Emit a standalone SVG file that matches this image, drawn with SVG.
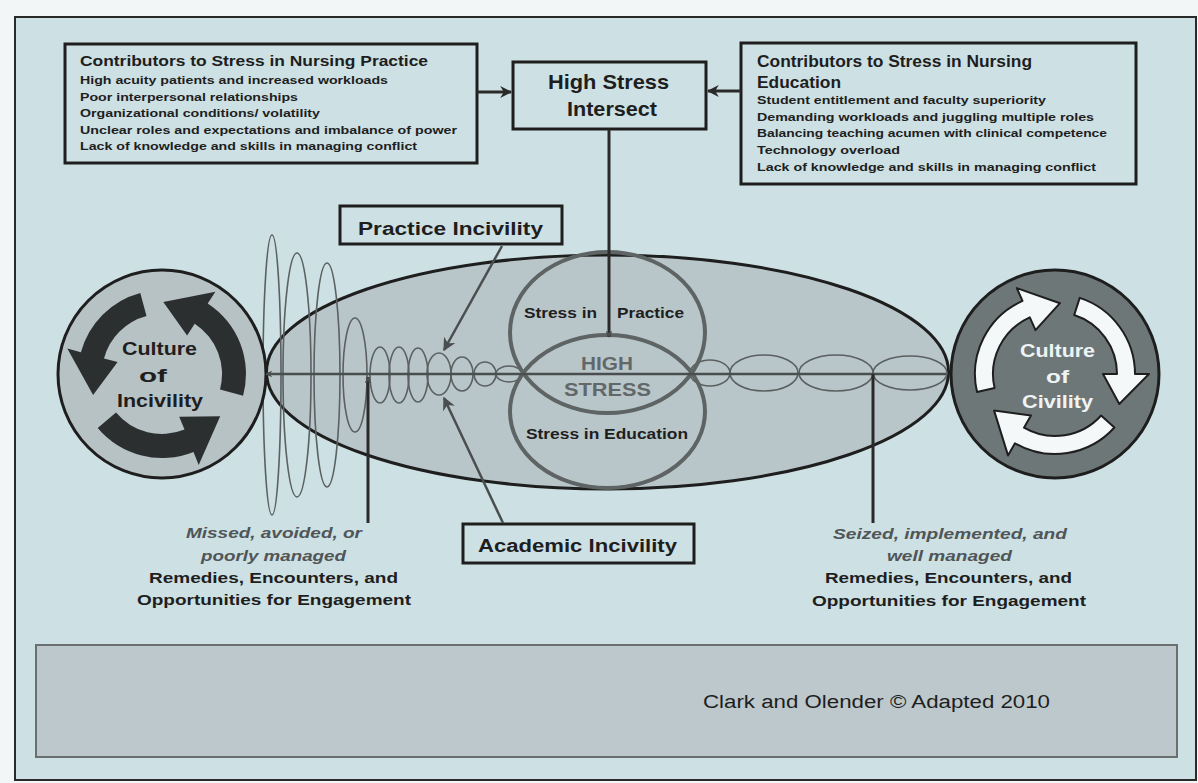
<svg xmlns="http://www.w3.org/2000/svg" width="1198" height="783" viewBox="0 0 1198 783">
<style>
text{font-family:"Liberation Sans",Arial,sans-serif;fill:#1e1e1e}
.b{font-weight:bold}
.box{fill:none;stroke:#1e1e1e;stroke-width:3}
.t15{font-size:15px;font-weight:bold}
.t11{font-size:11.5px;font-weight:bold}
.ripple{fill:none;stroke:#5b6061;stroke-width:1.6}
.conn{stroke:#2a2a2a;stroke-width:3;fill:none}
.gconn{stroke:#4a4e4f;stroke-width:2.5;fill:none}
.it{font-size:15px;font-weight:bold;font-style:italic;fill:#505557}
</style>
<defs>
<marker id="ah" viewBox="0 0 10 10" refX="9" refY="5" markerWidth="12" markerHeight="12" markerUnits="userSpaceOnUse" orient="auto">
<path d="M0,0 L10,5 L0,10 L3,5 z" fill="#2a2a2a"/>
</marker>
<marker id="ahg" viewBox="0 0 10 10" refX="9" refY="5" markerWidth="13" markerHeight="13" markerUnits="userSpaceOnUse" orient="auto">
<path d="M0,0 L10,5 L0,10 L3,5 z" fill="#4a4e4f"/>
</marker>
<marker id="ahs" viewBox="0 0 10 10" refX="9" refY="5" markerWidth="7" markerHeight="7" markerUnits="userSpaceOnUse" orient="auto">
<path d="M0,0 L10,5 L0,10 L3,5 z" fill="#4a4e4f"/>
</marker>
</defs>

<rect x="0" y="0" width="1198" height="783" fill="#f2f6f6"/>
<rect id="frame" x="15" y="17" width="1181" height="763" fill="#cde0e3" stroke="#2a2a2a" stroke-width="2"/>

<g id="stress-field">
<ellipse cx="607.5" cy="372" rx="341" ry="117" fill="#b9c6c9" stroke="#1e1e1e" stroke-width="3"/>
</g>

<g id="ripples-left">
<ellipse class="ripple" cx="272" cy="375" rx="9" ry="140" stroke="#6a6f70"/>
<ellipse class="ripple" cx="297" cy="375" rx="14" ry="122" stroke="#6a6f70"/>
<ellipse class="ripple" cx="327" cy="375" rx="13" ry="112" stroke="#6a6f70"/>
<ellipse class="ripple" cx="355" cy="375" rx="12" ry="57"/>
<ellipse class="ripple" cx="380" cy="375" rx="10" ry="28"/>
<ellipse class="ripple" cx="399" cy="375" rx="10" ry="28"/>
<ellipse class="ripple" cx="418" cy="375" rx="10" ry="27"/>
<ellipse class="ripple" cx="439" cy="374" rx="12" ry="21"/>
<ellipse class="ripple" cx="462" cy="374" rx="11" ry="17"/>
<ellipse class="ripple" cx="485" cy="374" rx="11" ry="12"/>
<ellipse class="ripple" cx="509" cy="374" rx="13" ry="8"/>
</g>

<g id="ripples-right">
<ellipse class="ripple" cx="710" cy="373" rx="20" ry="13"/>
<ellipse class="ripple" cx="764" cy="373" rx="34" ry="18"/>
<ellipse class="ripple" cx="836" cy="373" rx="37" ry="18"/>
<ellipse class="ripple" cx="910" cy="373" rx="37" ry="17"/>
</g>

<g id="stress-circles">
<ellipse cx="607.5" cy="332.5" rx="97.5" ry="80.5" fill="none" stroke="#5e6364" stroke-width="4"/>
<ellipse cx="607.5" cy="411.5" rx="97.5" ry="76.5" fill="none" stroke="#5e6364" stroke-width="4"/>
<text x="524" y="318" class="t15" textLength="73" lengthAdjust="spacingAndGlyphs">Stress in</text>
<text x="617" y="318" class="t15" textLength="67" lengthAdjust="spacingAndGlyphs">Practice</text>
<text x="581" y="370" class="b" font-size="19" style="fill:#62686a" textLength="52" lengthAdjust="spacingAndGlyphs">HIGH</text>
<text x="564" y="396" class="b" font-size="19" style="fill:#62686a" textLength="87" lengthAdjust="spacingAndGlyphs">STRESS</text>
<text x="526" y="439" class="t15" textLength="162" lengthAdjust="spacingAndGlyphs">Stress in Education</text>
</g>

<g id="culture-incivility">
<circle cx="162" cy="374" r="104" fill="#b7c2c5" stroke="#1e1e1e" stroke-width="3"/>
<path fill="#2c2f30" d="M140.3,292.9 A84,84 0 0 0 80.9,352.3 L67.3,348.6 L93.1,395.1 L117.6,362.1 L104.0,358.5 A60,60 0 0 1 146.5,316.0 Z"/>
<path fill="#2c2f30" d="M97.7,428.0 A84,84 0 0 0 193.5,451.9 L198.7,464.9 L220.2,416.3 L179.2,416.7 L184.5,429.6 A60,60 0 0 1 116.0,412.6 Z"/>
<path fill="#2c2f30" d="M243.1,395.7 A84,84 0 0 0 207.7,303.5 L215.4,291.8 L163.3,302.0 L187.1,335.4 L194.7,323.7 A60,60 0 0 1 220.0,389.5 Z"/>
<text x="122" y="355" class="b" font-size="18" textLength="75" lengthAdjust="spacingAndGlyphs">Culture</text>
<text x="139" y="382" class="b" font-size="18" textLength="28" lengthAdjust="spacingAndGlyphs">of</text>
<text x="117" y="407" class="b" font-size="18" textLength="86" lengthAdjust="spacingAndGlyphs">Incivility</text>
</g>

<g id="culture-civility">
<circle cx="1055" cy="374" r="104" fill="#6e7778" stroke="#1e1e1e" stroke-width="3"/>
<g fill="#f4f8f8" stroke="#1e1e1e" stroke-width="2" stroke-linejoin="round">
<path d="M977.0,392.0 A80,80 0 0 1 1022.5,300.9 L1016.8,288.1 L1060.0,303.2 L1035.5,330.2 L1029.8,317.4 A62,62 0 0 0 994.6,388.0 Z"/>
<path d="M1079.7,297.9 A80,80 0 0 1 1135,374 L1149,374 L1119.3,404.0 L1103,374 L1117,374 A62,62 0 0 0 1074.2,315.0 Z"/>
<path d="M1114.4,427.5 A80,80 0 0 1 1015,443.3 L1008,455.4 L994.1,410.6 L1031,415.6 L1024,427.7 A62,62 0 0 0 1101.1,415.5 Z"/>
</g>
<text x="1020" y="357" class="b" font-size="18" style="fill:#eef3f3" textLength="75" lengthAdjust="spacingAndGlyphs">Culture</text>
<text x="1046" y="383" class="b" font-size="18" style="fill:#eef3f3" textLength="23" lengthAdjust="spacingAndGlyphs">of</text>
<text x="1022" y="408" class="b" font-size="18" style="fill:#eef3f3" textLength="71" lengthAdjust="spacingAndGlyphs">Civility</text>
</g>

<g id="practice-contributors">
<rect class="box" x="65" y="44" width="412" height="119"/>
<text x="80" y="66" class="t15" textLength="348" lengthAdjust="spacingAndGlyphs">Contributors to Stress in Nursing Practice</text>
<text x="80" y="84" class="t11" textLength="308" lengthAdjust="spacingAndGlyphs">High acuity patients and increased workloads</text>
<text x="80" y="100.5" class="t11" textLength="218" lengthAdjust="spacingAndGlyphs">Poor interpersonal relationships</text>
<text x="80" y="117" class="t11" textLength="240" lengthAdjust="spacingAndGlyphs">Organizational conditions/ volatility</text>
<text x="80" y="133.5" class="t11" textLength="377" lengthAdjust="spacingAndGlyphs">Unclear roles and expectations and imbalance of power</text>
<text x="80" y="150" class="t11" textLength="337" lengthAdjust="spacingAndGlyphs">Lack of knowledge and skills in managing conflict</text>
</g>

<g id="high-stress-intersect">
<rect class="box" x="513" y="62" width="193" height="67"/>
<text x="548" y="89" class="b" font-size="21" textLength="121" lengthAdjust="spacingAndGlyphs">High Stress</text>
<text x="567" y="116" class="b" font-size="21" textLength="90" lengthAdjust="spacingAndGlyphs">Intersect</text>
</g>

<g id="education-contributors">
<rect class="box" x="741" y="43" width="395" height="141"/>
<text x="757" y="67" class="b" font-size="16" textLength="275" lengthAdjust="spacingAndGlyphs">Contributors to Stress in Nursing</text>
<text x="757" y="88" class="b" font-size="16" textLength="84" lengthAdjust="spacingAndGlyphs">Education</text>
<text x="757" y="104" class="t11" textLength="289" lengthAdjust="spacingAndGlyphs">Student entitlement and faculty superiority</text>
<text x="757" y="121" class="t11" textLength="337" lengthAdjust="spacingAndGlyphs">Demanding workloads and juggling multiple roles</text>
<text x="757" y="137" class="t11" textLength="350" lengthAdjust="spacingAndGlyphs">Balancing teaching acumen with clinical competence</text>
<text x="757" y="154" class="t11" textLength="143" lengthAdjust="spacingAndGlyphs">Technology overload</text>
<text x="757" y="171" class="t11" textLength="339" lengthAdjust="spacingAndGlyphs">Lack of knowledge and skills in managing conflict</text>
</g>

<g id="practice-incivility">
<rect class="box" x="340" y="206" width="222" height="38" fill="#cde0e3"/>
<text x="358" y="235" class="b" font-size="18" textLength="185" lengthAdjust="spacingAndGlyphs">Practice  Incivility</text>
</g>

<g id="academic-incivility">
<rect class="box" x="463" y="524" width="231" height="39"/>
<text x="478" y="552" class="b" font-size="18" textLength="199" lengthAdjust="spacingAndGlyphs">Academic Incivility</text>
</g>

<g id="connectors">
<line class="gconn" x1="946" y1="374" x2="266" y2="374" stroke="#5e6364" marker-end="url(#ahs)"/>
<line class="conn" x1="477" y1="92" x2="511" y2="92" marker-end="url(#ah)"/>
<line class="conn" x1="741" y1="91" x2="708" y2="91" marker-end="url(#ah)"/>
<line class="conn" x1="609" y1="129" x2="609" y2="337" stroke-width="2.5" marker-end="url(#ahs)"/>
<line class="gconn" x1="502" y1="246" x2="444" y2="350" marker-end="url(#ahg)"/>
<line class="gconn" x1="503" y1="523" x2="444" y2="398" marker-end="url(#ahg)"/>
<line class="conn" x1="368" y1="523" x2="368" y2="377" stroke-width="2.5" marker-end="url(#ahs)"/>
<line class="conn" x1="873" y1="523" x2="873" y2="374" stroke-width="2.5"/>
</g>

<g id="missed-label">
<text x="186" y="538" class="it" textLength="176" lengthAdjust="spacingAndGlyphs">Missed, avoided, or</text>
<text x="201" y="561" class="it" textLength="145" lengthAdjust="spacingAndGlyphs">poorly managed</text>
<text x="149" y="583" class="t15" textLength="249" lengthAdjust="spacingAndGlyphs">Remedies, Encounters, and</text>
<text x="137" y="605" class="t15" textLength="274" lengthAdjust="spacingAndGlyphs">Opportunities for Engagement</text>
</g>

<g id="seized-label">
<text x="833" y="539" class="it" textLength="234" lengthAdjust="spacingAndGlyphs">Seized, implemented, and</text>
<text x="887" y="561" class="it" textLength="125" lengthAdjust="spacingAndGlyphs">well managed</text>
<text x="825" y="583" class="t15" textLength="247" lengthAdjust="spacingAndGlyphs">Remedies, Encounters, and</text>
<text x="812" y="606" class="t15" textLength="274" lengthAdjust="spacingAndGlyphs">Opportunities for Engagement</text>
</g>

<g id="footer">
<rect x="36" y="645" width="1141" height="112" fill="#bcc8cb" stroke="#6a6f70" stroke-width="2"/>
<text x="703" y="708" font-size="18" textLength="347" lengthAdjust="spacingAndGlyphs">Clark and Olender © Adapted 2010</text>
</g>
</svg>
